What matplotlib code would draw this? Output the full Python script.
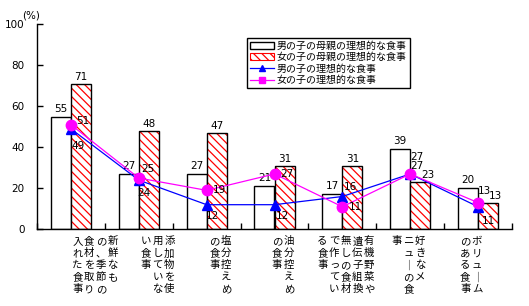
import matplotlib
matplotlib.use('Agg')
import matplotlib.pyplot as plt
from matplotlib.patches import Patch
from matplotlib.lines import Line2D
import numpy as np

plt.rcParams['font.family'] = ['Noto Sans CJK JP', 'DejaVu Sans']
plt.rcParams['hatch.linewidth'] = 0.9

# ---- data ----
# column breaks of the vertical labels are marked with "\n" (columns read right to left)
categories = [
    "新鮮なも\nの、季節の\n食材を取り\n入れた食事",
    "添加物を使\n用していな\nい食事",
    "塩分控えめ\nの食事",
    "油分控えめ\nの食事",
    "有機野菜や\n遺伝子組換\n無しの食材\nで作ってい\nる食事",
    "好きなメ\nニューの食\n事",
    "ボリューム\nのある食事",
]
series_names = ["男の子の母親の理想的な食事", "女の子の母親の理想的な食事",
                "男の子の理想的な食事", "女の子の理想的な食事"]
boy_mother = [55, 27, 27, 21, 17, 39, 20]
girl_mother = [71, 48, 47, 31, 31, 23, 13]
boy_child = [49, 24, 12, 12, 16, 27, 11]
girl_child = [51, 25, 19, 27, 11, 27, 13]
yticks = [0, 20, 40, 60, 80, 100]

# ---- style / label offsets (pixels) ----
girl_lbl_off = [(12, 4), (9, 9), (13, 0), (12, 0), (13, 0), (7, 17), (6, 12)]
boy_lbl_off = [(7, -17), (5, -13), (6, -11), (8, -11), (8, 10), (7, 8), (10, -14)]
girl_bar_dx = [0, 0, 0, 0, 0, 8, 7]

fig = plt.figure(figsize=(5.29, 3.06), dpi=100)
ax = fig.add_axes([37/529, 1-229.3/306, 475/529, 205/306])

n = len(categories)
x = np.arange(n)
w = 0.295

ax.bar(x - w/2, boy_mother, w, facecolor='white', edgecolor='black', linewidth=1.0, zorder=2)
ax.bar(x + w/2, girl_mother, w, facecolor='white', edgecolor='#ff0000', hatch='\\\\\\\\', linewidth=0, zorder=2)
ax.bar(x + w/2, girl_mother, w, facecolor='none', edgecolor='black', linewidth=1.0, zorder=3)

ax.plot(x, boy_child, color='#0000ff', lw=0.9, marker='^', ms=7.5, mec='#0000ff', mfc='#0000ff', zorder=4)
ax.plot(x, girl_child, color='#ff00ff', lw=0.9, marker='o', ms=7.5, mec='#ff00ff', mfc='#ff00ff', zorder=5)

fs_num = 7.5
for i in range(n):
    ax.annotate(str(boy_mother[i]), (x[i] - w/2, boy_mother[i]), xytext=(0, 3),
                textcoords='offset pixels', ha='center', va='bottom', fontsize=fs_num,
                family='DejaVu Sans')
    ax.annotate(str(girl_mother[i]), (x[i] + w/2, girl_mother[i]), xytext=(girl_bar_dx[i], 2),
                textcoords='offset pixels', ha='center', va='bottom', fontsize=fs_num,
                family='DejaVu Sans')
    ax.annotate(str(girl_child[i]), (x[i], girl_child[i]), xytext=girl_lbl_off[i],
                textcoords='offset pixels', ha='center', va='center', fontsize=fs_num,
                family='DejaVu Sans', zorder=6)
    ax.annotate(str(boy_child[i]), (x[i], boy_child[i]), xytext=boy_lbl_off[i],
                textcoords='offset pixels', ha='center', va='center', fontsize=fs_num,
                family='DejaVu Sans', zorder=6)

# vertical category labels
col_gap = 11.7
row_gap = 12.0
for i, lab in enumerate(categories):
    cols = lab.split("\n")
    nc = len(cols)
    shift = 24 - 5.16 * i
    for j, col in enumerate(cols):
        dx = shift + ((nc - 1) / 2 - j) * col_gap
        for k, ch in enumerate(col):
            if ch == 'ー':
                ch = '｜'
            ax.annotate(ch, (x[i], 0), xycoords=('data', 'axes fraction'),
                        xytext=(dx, -7 - k * row_gap), textcoords='offset pixels',
                        ha='center', va='top', fontsize=7.5, annotation_clip=False)

ax.set_xlim(-0.5, n - 0.5)
ax.set_ylim(0, 100)
ax.set_yticks(yticks)
ax.set_yticklabels([str(t) for t in yticks], family='DejaVu Sans', fontsize=7.5)
ax.set_xticks(np.arange(n + 1) - 0.5)
ax.set_xticklabels([])
ax.tick_params(axis='y', direction='in', length=4, width=1, pad=9)
ax.tick_params(axis='x', direction='in', length=4, width=1)
for s in ['top', 'right']:
    ax.spines[s].set_visible(False)
for s in ['left', 'bottom']:
    ax.spines[s].set_linewidth(1.0)

fig.text(22/529, 1-15/306, "(%)", fontsize=7.5, family='DejaVu Sans', ha='left', va='center')

handles = [
    Patch(facecolor='white', edgecolor='black', linewidth=1.0),
    Patch(facecolor='white', edgecolor='#ff0000', hatch='\\\\\\\\', linewidth=0.8),
    Line2D([], [], color='#0000ff', lw=0.9, marker='^', ms=5),
    Line2D([], [], color='#ff00ff', lw=0.9, marker='s', ms=4),
]
leg = ax.legend(handles, series_names, loc='upper left', bbox_to_anchor=(0.442, 0.935),
                fontsize=7.2, frameon=True, fancybox=False, edgecolor='black',
                framealpha=1, borderpad=0.3, labelspacing=0.15, handlelength=2.4,
                handletextpad=0.3, handleheight=0.7, borderaxespad=0)
leg.get_frame().set_linewidth(1.0)

fig.savefig('out.png', dpi=100)
